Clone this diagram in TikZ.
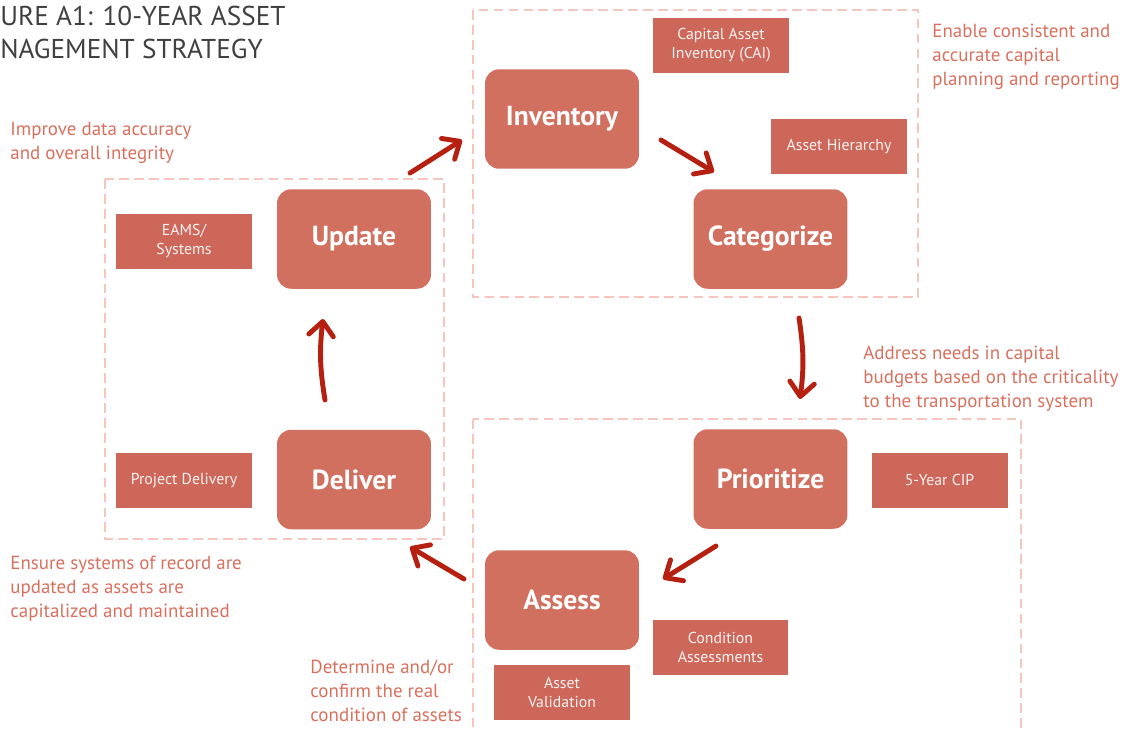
\documentclass[tikz,border=0pt]{standalone}
\usepackage{fontspec}
\setmainfont{PT Sans}
\usetikzlibrary{arrows.meta}
\definecolor{mainfill}{HTML}{D27060}
\definecolor{smallfill}{HTML}{CD6759}
\definecolor{annot}{HTML}{D9705E}
\definecolor{arrowred}{HTML}{B52010}
\definecolor{dashpink}{HTML}{F4C6BE}
\definecolor{titlegray}{HTML}{404040}
\tikzset{
  mainbox/.style={fill=mainfill, rounded corners=8pt, minimum width=3.08cm, minimum height=1.99cm,
    text=white, font=\fontsize{15.7}{18}\selectfont\bfseries, inner sep=0pt},
  smallbox/.style={fill=smallfill, minimum width=2.72cm, minimum height=1.1cm, text=white!92!smallfill,
    font=\fontsize{9}{10.8}\selectfont, align=center, inner sep=0pt},
  annotext/.style={text=annot, font=\fontsize{10.8}{13.6}\selectfont, align=left, anchor=north west, inner sep=0pt},
  dashbox/.style={draw=dashpink, line width=1.1pt, dash pattern=on 5.5pt off 3pt},
  flow/.style={draw=arrowred, line width=2.8pt, line cap=round,
    -{Straight Barb[length=8pt,width=14pt,round]}},
}
\begin{document}
\begin{tikzpicture}[x=0.02cm,y=-0.02cm]
\useasboundingbox (0,0) rectangle (1125,728);
\clip (0,0) rectangle (1125,728);
% title
\node[anchor=north west, inner sep=0pt, text=titlegray, align=left,
  font=\fontsize{15.5}{18.5}\selectfont] (title) at (0,6) {URE A1: 10-YEAR ASSET\\NAGEMENT STRATEGY};
% dashed groups
\draw[dashbox] (473,10) rectangle (918,297);
\draw[dashbox] (105,179) rectangle (444,539);
\draw[dashbox] (473,419) rectangle (1021,740);
% main steps
\node[mainbox] (inventory) at (562,119) {Inventory};
\node[mainbox] (categorize) at (770.5,239) {Categorize};
\node[mainbox] (update) at (354,239) {Update};
\node[mainbox] (deliver) at (354,479.5) {Deliver};
\node[mainbox] (prioritize) at (770.5,479) {Prioritize};
\node[mainbox] (assess) at (562,600) {Assess};
% small boxes
\node[smallbox] (cai) at (721,45.5) {Capital Asset\\Inventory (CAI)};
\node[smallbox] (hier) at (839,146) {Asset Hierarchy};
\node[smallbox] (eams) at (184,241) {EAMS/\\Systems};
\node[smallbox] (pd) at (184,480.5) {Project Delivery};
\node[smallbox] (cip) at (939.5,480) {5-Year CIP};
\node[smallbox] (cond) at (720.5,647) {Condition\\Assessments};
\node[smallbox] (aval) at (562,692) {Asset\\Validation};
% annotations
\node[annotext] (t1) at (10,122) {Improve data accuracy\\and overall integrity};
\node[annotext] (t2) at (932,24) {Enable consistent and\\accurate capital\\planning and reporting};
\node[annotext] (t3) at (863,346) {Address needs in capital\\budgets based on the criticality\\to the transportation system};
\node[annotext] (t4) at (10,556) {Ensure systems of record are\\updated as assets are\\capitalized and maintained};
\node[annotext] (t5) at (310,660) {Determine and/or\\confirm the real\\condition of assets};
% arrow end points
\coordinate (a1s) at (410,173);
\coordinate (a1e) at (462,140);
\coordinate (a2s) at (661,140);
\coordinate (a2e) at (714,172);
\coordinate (a3s) at (799,318);
\coordinate (a3e) at (800,399);
\coordinate (a4s) at (716,546);
\coordinate (a4e) at (663,579);
\coordinate (a5s) at (464,579);
\coordinate (a5e) at (410,547);
\coordinate (a6s) at (325,400);
\coordinate (a6e) at (323,319);
\draw[flow] (a1s) -- (a1e);
\draw[flow] (a2s) -- (a2e);
\draw[flow] (a3s) to[bend left=8] (a3e);
\draw[flow] (a4s) -- (a4e);
\draw[flow] (a5s) -- (a5e);
\draw[flow] (a6s) to[bend left=8] (a6e);
\end{tikzpicture}
\end{document}
